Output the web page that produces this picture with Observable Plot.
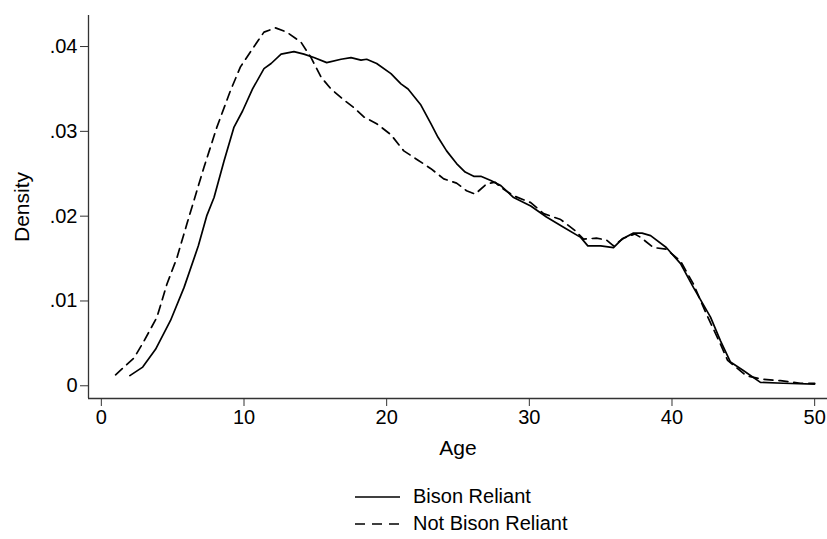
<!DOCTYPE html>
<html>
<head>
<meta charset="utf-8">
<script src="https://cdn.jsdelivr.net/npm/d3@7"></script>
<script src="https://cdn.jsdelivr.net/npm/@observablehq/plot@0.6"></script>
<style>
  html, body { margin: 0; padding: 0; background: #fff; }
  body { width: 827px; height: 539px; overflow: hidden; font-family: "Liberation Sans", Arial, Helvetica, sans-serif; }
  #legend { margin-top: 13px; padding-left: 355px; font-size: 20px; color: #000; }
  .row { display: flex; align-items: center; height: 27px; }
  .row svg { margin-right: 13px; }
</style>
</head>
<body>
<div id="chart"></div>
<div id="legend"></div>
<script>
// ---- data ----
const seriesNames = ["Bison Reliant", "Not Bison Reliant"];

const reliantAge = [2.0, 2.9, 3.8, 4.85, 5.8, 6.8, 7.4, 7.9, 8.6, 9.3, 9.9, 10.6, 11.4, 11.9, 12.6, 13.5, 14.2, 14.9, 15.8, 16.8, 17.5, 18.2, 18.6, 19.3, 20.3, 21.0, 21.5, 22.4, 23.1, 23.6, 24.2, 24.9, 25.5, 26.1, 26.6, 27.3, 28.0, 28.9, 30.1, 31.2, 32.4, 33.6, 34.1, 35.0, 35.9, 36.5, 37.3, 37.9, 38.5, 39.6, 40.6, 41.5, 42.7, 43.4, 44.1, 45.0, 46.2, 47.8, 50.0];
const reliantDensity = [0.0012, 0.0022, 0.0043, 0.0077, 0.0116, 0.0165, 0.0201, 0.0222, 0.0265, 0.0305, 0.0324, 0.0350, 0.0374, 0.0380, 0.0391, 0.0394, 0.0391, 0.0387, 0.0381, 0.0385, 0.0387, 0.0384, 0.0385, 0.0380, 0.0368, 0.0356, 0.0350, 0.0331, 0.0309, 0.0293, 0.0277, 0.0262, 0.0252, 0.0247, 0.0247, 0.0242, 0.0236, 0.0222, 0.0212, 0.0199, 0.0187, 0.0175, 0.0165, 0.0165, 0.0163, 0.0173, 0.0180, 0.0180, 0.0177, 0.0163, 0.0144, 0.0116, 0.0081, 0.0053, 0.0028, 0.0018, 0.0004, 0.0003, 0.0002];

const notReliantAge = [1.0, 2.3, 3.0, 3.9, 4.6, 5.3, 6.0, 7.2, 8.1, 9.05, 9.75, 10.5, 11.4, 12.2, 13.0, 14.0, 14.7, 15.4, 16.1, 17.0, 17.7, 18.4, 19.3, 20.3, 21.2, 22.2, 23.1, 24.0, 24.9, 25.6, 26.2, 27.0, 27.6, 28.0, 28.9, 30.1, 31.0, 32.2, 33.2, 33.8, 34.7, 35.4, 35.9, 36.6, 37.4, 37.8, 38.7, 39.6, 40.6, 41.5, 42.4, 43.4, 43.9, 45.2, 46.2, 47.6, 49.0, 50.0];
const notReliantDensity = [0.0013, 0.0033, 0.0053, 0.0081, 0.0120, 0.0151, 0.0191, 0.0258, 0.0305, 0.0348, 0.0376, 0.0395, 0.0417, 0.0422, 0.0417, 0.0405, 0.0387, 0.0364, 0.0350, 0.0337, 0.0328, 0.0317, 0.0309, 0.0296, 0.0277, 0.0266, 0.0256, 0.0244, 0.0239, 0.0230, 0.0226, 0.0238, 0.0240, 0.0234, 0.0224, 0.0216, 0.0203, 0.0196, 0.0183, 0.0173, 0.0174, 0.0172, 0.0165, 0.0174, 0.0179, 0.0175, 0.0163, 0.0161, 0.0147, 0.0120, 0.0085, 0.0049, 0.0030, 0.0012, 0.0008, 0.0006, 0.0003, 0.0003];

const xTicks = [0, 10, 20, 30, 40, 50];
const yTicks = [0, 0.01, 0.02, 0.03, 0.04];
const yTickLabels = ["0", ".01", ".02", ".03", ".04"];
const xTitle = "Age";
const yTitle = "Density";

const xDomain = [-0.9, 50.9];
const yDomain = [-0.0015, 0.04366];

// ---- build tables ----
const reliant = reliantAge.map((a, i) => ({age: a, density: reliantDensity[i]}));
const notReliant = notReliantAge.map((a, i) => ({age: a, density: notReliantDensity[i]}));

const dash = "9,6";
const axisColor = "#333";

const chart = Plot.plot({
  width: 827,
  height: 470,
  marginLeft: 88,
  marginRight: 0,
  marginTop: 15,
  marginBottom: 72,
  style: {fontFamily: '"Liberation Sans", Arial, Helvetica, sans-serif', fontSize: "20px", color: "#000", background: "#fff"},
  x: {domain: xDomain},
  y: {domain: yDomain},
  marks: [
    Plot.ruleX([xDomain[0]], {stroke: axisColor, strokeWidth: 1.3}),
    Plot.ruleY([yDomain[0]], {stroke: axisColor, strokeWidth: 1.3}),
    Plot.axisX({ticks: xTicks, tickSize: 8, tickPadding: 3, label: null, stroke: axisColor, fill: "#000"}),
    Plot.axisY({ticks: yTicks, tickSize: 8, tickPadding: 3, label: null, stroke: axisColor, fill: "#000",
      tickFormat: d => yTickLabels[yTicks.indexOf(d)]}),
    Plot.line(reliant, {x: "age", y: "density", stroke: "#000", strokeWidth: 1.7}),
    Plot.line(notReliant, {x: "age", y: "density", stroke: "#000", strokeWidth: 1.7, strokeDasharray: dash}),
    Plot.text([xTitle], {text: d => d, frameAnchor: "bottom", dy: 50, lineAnchor: "middle", textAnchor: "middle", fontSize: 21, fill: "#000"}),
    Plot.text([yTitle], {text: d => d, frameAnchor: "left", rotate: -90, dx: -66, lineAnchor: "middle", textAnchor: "middle", fontSize: 21, fill: "#000"})
  ]
});
document.getElementById("chart").appendChild(chart);

// ---- legend ----
const legend = d3.select("#legend");
seriesNames.forEach((name, i) => {
  const row = legend.append("div").attr("class", "row");
  const s = row.append("svg").attr("width", 45).attr("height", 10);
  s.append("line").attr("x1", 0).attr("x2", 45).attr("y1", 5).attr("y2", 5)
    .attr("stroke", "#000").attr("stroke-width", 1.7)
    .attr("stroke-dasharray", i === 1 ? "10,7" : null);
  row.append("span").text(name);
});
</script>
</body>
</html>
